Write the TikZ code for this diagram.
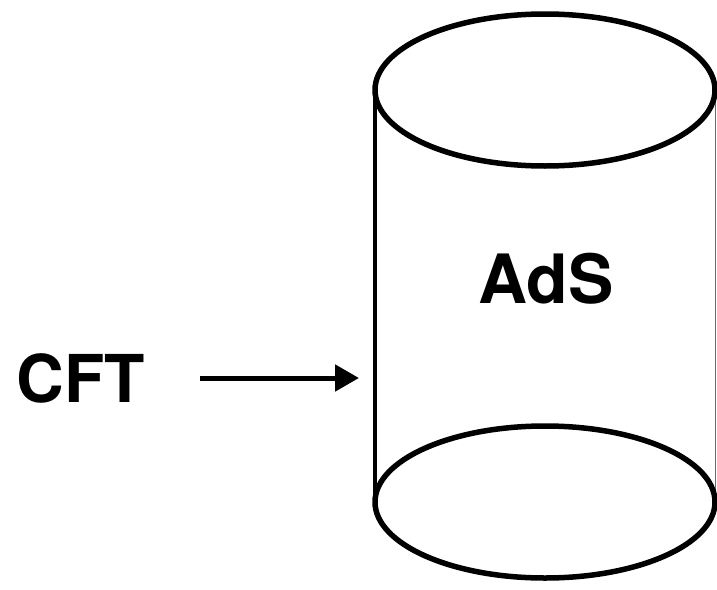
\documentclass[tikz,border=0pt]{standalone}
\usepackage{fontspec}
\setmainfont{TeX Gyre Heros}
\usetikzlibrary{arrows.meta}
\definecolor{holoInk}{HTML}{000000}
\definecolor{holoGrey}{HTML}{6A6A6A}

\begin{document}
\begin{tikzpicture}[x=1pt,y=-1pt]
  \useasboundingbox (0,0) rectangle (717,589);
  % Bulk cylinder
  \draw[holoGrey, line width=1.5pt] (715.5,90) -- (715.5,502);
  \draw[holoInk, line width=4pt] (375,90) -- (375,502);
  \draw[holoInk, line width=5.5pt] (545,90) ellipse [x radius=170, y radius=76];
  \draw[holoInk, line width=5.5pt] (545,502) ellipse [x radius=170, y radius=76];
  % Labels
  \node[font=\fontsize{68}{76}\selectfont\bfseries, inner sep=0pt] (ads) at (546,279) {AdS};
  \node[font=\fontsize{66}{74}\selectfont\bfseries, inner sep=0pt] (cft) at (81,378) {CFT};
  % Boundary arrow
  \coordinate (edge) at (359,378);
  \draw[holoInk, line width=5pt, -{Triangle[length=24pt,width=26pt]}]
    (200,378) -- (edge);
\end{tikzpicture}
\end{document}
